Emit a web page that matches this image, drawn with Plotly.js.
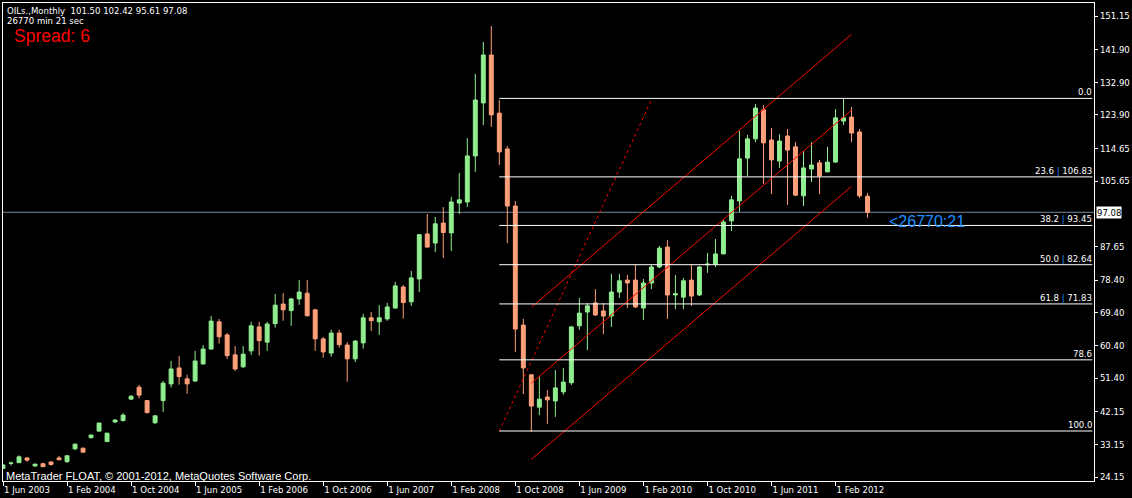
<!DOCTYPE html>
<html><head><meta charset="utf-8">
<script src="https://cdn.plot.ly/plotly-3.0.1.min.js"></script>
<style>html,body{margin:0;padding:0;background:#000;overflow:hidden}#chart{width:1132px;height:498px}</style>
</head><body><div id="chart"></div>
<script>
// ---- data (Brent monthly, Jun 2003 .. Jun 2012) ----
const symbol = "OILs.,Monthly";
const open = [26.55,27.9,28.1,29.4,27.2,27.8,28.3,29.4,28.4,31.9,
32.1,35.0,36.8,33.9,39.3,39.7,45.6,48.9,45.2,39.1,
45.2,49.8,54.2,51.2,50.6,55.3,59.4,66.9,63.3,57.8,
54.5,58.9,65.5,61.3,66.4,71.8,70.0,73.2,74.8,70.2,
62.2,58.3,63.8,60.5,56.7,61.1,68.0,66.9,67.7,70.7,
76.5,72.4,78.7,91.1,88.6,94.1,91.4,99.6,99.9,112.6,
127.2,140.4,124.4,114.5,98.8,66.0,52.3,43.4,46.2,45.1,
47.6,50.1,65.8,69.6,72.1,69.9,68.5,75.1,78.4,78.4,
70.7,77.6,82.0,87.5,74.3,73.7,78.4,74.3,82.6,82.8,
85.6,94.7,100.2,112.0,117.3,125.3,117.0,111.2,118.1,115.1,
101.6,109.0,110.7,108.2,110.9,122.2,123.3,119.2,101.50];
const high = [27.7,28.4,30.1,29.6,27.8,28.1,28.4,30.0,30.1,33.4,
32.2,35.9,39.2,36.4,40.1,41.7,46.7,49.5,45.4,41.2,
50.6,56.1,57.5,52.3,58.9,60.5,68.5,67.7,63.8,60.2,
60.2,66.9,66.9,66.9,74.6,74.8,73.5,78.4,78.4,70.4,
62.7,64.7,64.7,61.3,61.9,69.1,69.6,71.5,72.1,77.9,
77.0,80.9,91.1,96.6,95.8,98.5,101.3,107.9,117.5,135.2,
144.0,148.4,128.0,115.3,100.2,67.7,52.5,51.8,48.1,53.6,
54.2,65.8,73.5,72.1,75.9,72.1,80.1,80.1,79.8,82.6,
78.7,82.6,87.8,89.4,79.8,79.0,82.8,82.3,85.9,89.7,
95.0,101.6,119.5,118.4,126.9,126.6,120.3,118.6,120.0,116.4,
114.0,116.4,111.5,115.1,125.5,128.3,126.1,120.0,102.42];
const low = [26.3,27.3,28.0,28.4,27.0,26.9,27.3,28.8,28.0,31.6,
30.8,34.7,36.6,33.8,39.1,39.4,45.4,45.8,41.6,38.7,
42.1,48.8,49.6,47.1,50.3,55.1,59.2,60.9,56.7,53.4,
54.2,57.8,57.6,58.9,65.3,67.2,65.8,71.6,68.3,58.9,
57.0,57.3,59.8,50.4,55.8,59.5,64.4,63.3,67.2,70.5,
67.8,71.3,75.1,87.3,86.1,84.5,86.4,96.6,98.5,108.2,
121.1,120.6,110.1,88.6,58.6,47.0,36.6,41.2,38.8,40.7,
46.8,49.5,64.7,59.1,68.5,63.5,65.5,73.5,70.7,70.7,
67.4,75.9,81.7,67.7,70.4,70.4,71.3,74.0,80.4,82.0,
85.6,91.9,97.2,107.1,116.4,104.9,102.1,109.3,99.1,101.6,
98.8,105.4,102.1,108.2,110.7,121.1,116.4,101.0,95.61];
const close = [27.46,28.0,29.7,28.8,27.7,27.0,27.6,28.9,30.0,33.2,
31.0,35.7,39.0,36.2,39.85,41.2,46.4,46.7,41.9,41.0,
50.0,53.9,51.8,49.8,56.1,59.4,67.1,62.8,57.6,53.9,
58.0,65.8,61.7,66.3,71.5,70.2,73.2,75.1,68.6,62.2,
58.6,63.8,60.6,56.7,61.6,68.0,67.2,68.0,71.0,76.8,
72.2,79.0,90.9,87.5,93.9,91.5,99.9,100.5,112.6,128.0,
140.4,123.9,113.7,98.8,64.9,54.2,43.7,45.6,45.4,48.7,
50.3,65.5,69.3,71.3,68.8,68.5,75.1,78.2,77.6,71.0,
77.6,82.0,87.2,74.3,74.6,78.2,74.0,82.0,82.8,85.6,
94.4,100.5,111.8,117.3,125.8,116.2,111.5,116.7,114.2,101.8,
109.3,110.1,107.1,110.9,123.1,123.1,118.9,101.6,97.08];
const barIndex = open.map((_, i) => i);   // one bar per month, 0 = Jun 2003

const xTickIndex = [0, 8, 16, 24, 32, 40, 48, 56, 64, 72, 80, 88, 96, 104];
const xTickText = ["1 Jun 2003","1 Feb 2004","1 Oct 2004","1 Jun 2005","1 Feb 2006","1 Oct 2006","1 Jun 2007",
  "1 Feb 2008","1 Oct 2008","1 Jun 2009","1 Feb 2010","1 Oct 2010","1 Jun 2011","1 Feb 2012"];
const yTickVals = [151.15,141.90,132.90,123.90,114.65,105.65,87.65,78.40,69.40,60.40,51.40,42.15,33.15,24.15];

const lastPrice = 97.08;
const spread = 6;
const timerText = "26770 min 21 sec";
const timerLabel = "<26770:21";

// Fibonacci retracement
const fibLevels = [0.0, 23.6, 38.2, 50.0, 61.8, 78.6, 100.0];
const fibPrices = [128.45, 106.83, 93.45, 82.64, 71.83, 56.43, 36.82];
const fibShowPrice = [false, true, true, true, true, false, false];
const fibStartIndex = 62;
const fibBaseX = [62, 81.07];
const fibBaseY = [36.82, 128.45];

// Regression channel
const chanX = [66, 106];
const chanUpper = [70.9, 146.1];
const chanMiddle = [50.0, 125.2];
const chanLower = [29.0, 104.2];

// ---- layout helpers ----
const W = 1132, H = 498, ML = 3, MR = 38, MT = 3, MB = 17;
const PW = W - ML - MR, PH = H - MT - MB;
const px = x => (x - ML) / PW;
const py = y => (H - MB - y) / PH;
const xRange = [0, 136.29];
const yRange = [23.05, 154.73];
const SF = "Tahoma, 'DejaVu Sans Condensed', 'DejaVu Sans', sans-serif";
const AF = "'Liberation Sans', Arial, sans-serif";

const traces = [
  {type:'candlestick', x: barIndex, open, high, low, close,
   increasing:{line:{color:'#90EE90', width:1}, fillcolor:'#90EE90'},
   decreasing:{line:{color:'#FFA07A', width:1}, fillcolor:'#FFA07A'},
   whiskerwidth:0, hoverinfo:'skip'},
  {type:'scatter', mode:'lines', x: fibBaseX, y: fibBaseY, line:{color:'#FF0000', width:1, dash:'dot'}, hoverinfo:'skip'},
  {type:'scatter', mode:'lines', x: chanX, y: chanUpper, line:{color:'#FF0000', width:1}, hoverinfo:'skip'},
  {type:'scatter', mode:'lines', x: chanX, y: chanMiddle, line:{color:'#FF0000', width:1}, hoverinfo:'skip'},
  {type:'scatter', mode:'lines', x: chanX, y: chanLower, line:{color:'#FF0000', width:1}, hoverinfo:'skip'}
];

const shapes = [
  {type:'line', xref:'paper', yref:'y', x0:0, x1:1, y0:lastPrice, y1:lastPrice, line:{color:'#778899', width:1}, layer:'below'}
];
fibPrices.forEach(p => shapes.push({type:'line', xref:'x', yref:'y', x0:fibStartIndex, x1:xRange[1]-0.2, y0:p, y1:p,
  line:{color:'#FFFFFF', width:1}}));

const n = open.length - 1;
const annotations = [
  {xref:'paper', yref:'paper', x:px(6), y:py(10.5), xanchor:'left', yanchor:'middle', showarrow:false,
   text: symbol + '\u00A0\u00A0' + [open[n], high[n], low[n], close[n]].map(v => v.toFixed(2)).join(' '),
   font:{family:SF, size:9.5, color:'#FFFFFF'}, borderpad:0},
  {xref:'paper', yref:'paper', x:px(6), y:py(20.5), xanchor:'left', yanchor:'middle', showarrow:false,
   text: timerText, font:{family:SF, size:9.5, color:'#FFFFFF'}, borderpad:0},
  {xref:'paper', yref:'paper', x:px(13), y:py(35.5), xanchor:'left', yanchor:'middle', showarrow:false,
   text: 'Spread: ' + spread, font:{family:AF, size:17.5, color:'#FF0000'}, borderpad:0},
  {xref:'paper', yref:'paper', x:px(4), y:py(475.5), xanchor:'left', yanchor:'middle', showarrow:false,
   text: 'MetaTrader FLOAT, © 2001-2012, MetaQuotes Software Corp.', font:{family:AF, size:11, color:'#FFFFFF'}},
  {xref:'paper', yref:'paper', x:px(887), y:py(221), xanchor:'left', yanchor:'middle', showarrow:false,
   text: timerLabel.replace('<','&lt;'), font:{family:AF, size:16, color:'#1E90FF'}},
  {xref:'paper', yref:'y', x:1, y:lastPrice, xanchor:'left', yanchor:'middle', xshift:2, showarrow:false,
   text: lastPrice.toFixed(2), bgcolor:'#FFFFFF', borderpad:0, font:{family:SF, size:9.5, color:'#000000'}}
];
fibLevels.forEach((lv, i) => {
  const t = lv.toFixed(1) + (fibShowPrice[i] ? ' <span style="color:#1E90FF">|</span> ' + fibPrices[i].toFixed(2) : '');
  annotations.push({xref:'paper', yref:'y', x:px(1093), y:fibPrices[i], xanchor:'right', yanchor:'bottom', yshift:0,
    showarrow:false, text:t, font:{family:SF, size:9.5, color:'#FFFFFF'}, borderpad:0});
});

const layout = {
  width: W, height: H, margin:{l:ML, r:MR, t:MT, b:MB, pad:0},
  paper_bgcolor:'#000000', plot_bgcolor:'#000000', showlegend:false, dragmode:false,
  xaxis:{range:xRange, showgrid:false, zeroline:false, showline:true, linecolor:'#FFFFFF', linewidth:1, mirror:true,
    ticks:'outside', ticklen:4, tickcolor:'#FFFFFF', tickvals:xTickIndex, ticktext:xTickText,
    ticklabelposition:'outside right', tickfont:{family:SF, size:9.5, color:'#FFFFFF'},
    rangeslider:{visible:false}, fixedrange:true},
  yaxis:{range:yRange, side:'right', showgrid:false, zeroline:false, showline:true, linecolor:'#FFFFFF', linewidth:1, mirror:true,
    ticks:'outside', ticklen:3, tickcolor:'#FFFFFF', tickvals:yTickVals, ticktext:yTickVals.map(v => v.toFixed(2)),
    tickfont:{family:SF, size:9.5, color:'#FFFFFF'}, fixedrange:true},
  shapes, annotations
};
Plotly.newPlot('chart', traces, layout, {displayModeBar:false, staticPlot:true});
</script></body></html>
